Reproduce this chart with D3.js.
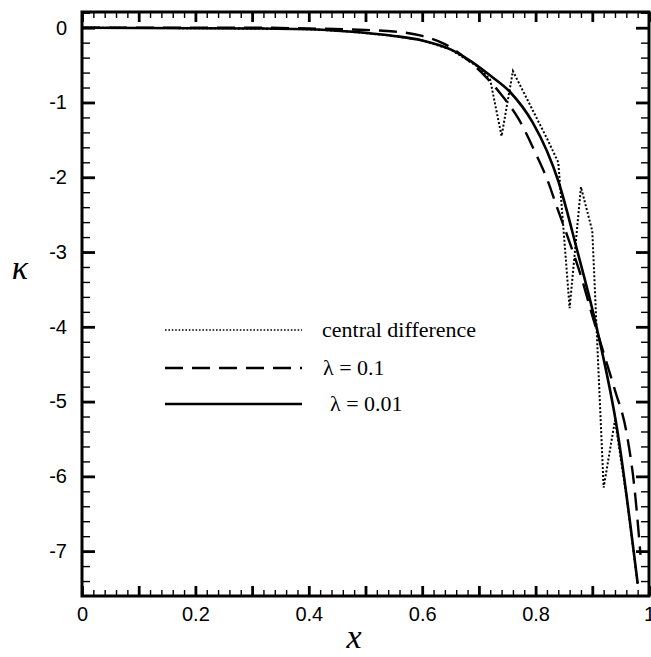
<!DOCTYPE html>
<html>
<head>
<meta charset="utf-8">
<script src="https://cdn.jsdelivr.net/npm/d3@7"></script>
<style>
  body { margin: 0; background: #fff; }
  svg { display: block; }
</style>
</head>
<body>
<div id="chart"></div>
<script>
// curve data (x, kappa)
var xSolid = [0, 0.3, 0.4, 0.47, 0.55, 0.6, 0.65, 0.69, 0.72, 0.755, 0.795, 0.82, 0.84, 0.873, 0.908, 0.944, 0.98];
var kSolid = [0, -0.01, -0.02, -0.05, -0.11, -0.17, -0.29, -0.47, -0.64, -0.86, -1.27, -1.65, -2.05, -2.97, -4.02, -5.38, -7.43];

var xDashed = [0, 0.3, 0.4, 0.5, 0.55, 0.6, 0.64, 0.68, 0.71, 0.74, 0.77, 0.8, 0.82, 0.84, 0.86, 0.88, 0.9, 0.92, 0.94, 0.96, 0.975, 0.985];
var kDashed = [0, 0, -0.01, -0.03, -0.05, -0.11, -0.22, -0.43, -0.64, -0.9, -1.22, -1.68, -2.02, -2.45, -2.87, -3.32, -3.85, -4.35, -4.85, -5.4, -6.2, -7.05];

var xCentral = [0, 0.3, 0.4, 0.47, 0.55, 0.6, 0.65, 0.7, 0.72, 0.74, 0.76, 0.78, 0.8, 0.82, 0.84, 0.86, 0.88, 0.9, 0.92, 0.94, 0.96, 0.98];
var kCentral = [0, -0.01, -0.02, -0.05, -0.11, -0.17, -0.29, -0.53, -0.7, -1.45, -0.58, -0.88, -1.18, -1.48, -1.8, -3.75, -2.13, -2.72, -6.15, -5.25, -6.25, -7.45];

var xLabels = [0, 0.2, 0.4, 0.6, 0.8, 1];
var yLabels = [0, -1, -2, -3, -4, -5, -6, -7];
var legendNames = ["central difference", "\u03bb = 0.1", "\u03bb = 0.01"];

var width = 651;
var height = 657;
var padL = 82, padR = 649, padT = 12, padB = 596;

var x = d3.scaleLinear().domain([0, 1]).range([padL, padR]);
var y = d3.scaleLinear().domain([0.21, -7.6]).range([padT, padB]);

const svg = d3.select("#chart")
  .append("svg")
  .attr("width", width)
  .attr("height", height)
  .attr("viewBox", [0, 0, width, height]);

function zip(xs, ks) {
  return xs.map((v, i) => [v, ks[i]]);
}

var line = d3.line()
  .x(d => x(d[0]))
  .y(d => y(d[1]));
var smooth = d3.line()
  .x(d => x(d[0]))
  .y(d => y(d[1]))
  .curve(d3.curveMonotoneX);

var plot = svg.append("g");

plot.append("path")
  .attr("d", line(zip(xCentral, kCentral)))
  .attr("fill", "none")
  .attr("stroke", "#000")
  .attr("stroke-width", 2)
  .attr("stroke-dasharray", "2,2");

plot.append("path")
  .attr("d", smooth(zip(xDashed, kDashed)))
  .attr("fill", "none")
  .attr("stroke", "#000")
  .attr("stroke-width", 2.4)
  .attr("stroke-dasharray", "18,9");

plot.append("path")
  .attr("d", smooth(zip(xSolid, kSolid)))
  .attr("fill", "none")
  .attr("stroke", "#000")
  .attr("stroke-width", 2.6);

// ticks, all pointing inwards on the four sides
var xMajor = d3.range(0, 11).map(i => i / 10);
var xMinor = d3.range(0, 51).map(i => i / 50).filter(v => Math.round(v * 50) % 5 !== 0);
var yMajor = d3.range(0, 8).map(i => -i);
var yMinor = d3.range(-37, 2).map(i => i / 5).filter(v => Math.round(v * 5) % 5 !== 0);

function styleAxis(g, w) {
  g.select(".domain").remove();
  g.selectAll(".tick line").attr("stroke-width", w);
}

svg.append("g").attr("transform", `translate(0,${padB})`)
  .call(d3.axisBottom(x).tickValues(xMinor).tickSize(-6).tickFormat(""))
  .call(g => styleAxis(g, 1.4));
svg.append("g").attr("transform", `translate(0,${padT})`)
  .call(d3.axisTop(x).tickValues(xMinor).tickSize(-6).tickFormat(""))
  .call(g => styleAxis(g, 1.4));
svg.append("g").attr("transform", `translate(0,${padT})`)
  .call(d3.axisTop(x).tickValues(xMajor).tickSize(-10).tickFormat(""))
  .call(g => styleAxis(g, 2.8));

svg.append("g").attr("transform", `translate(0,${padB})`)
  .call(d3.axisBottom(x).tickValues(xMajor).tickSize(-10).tickPadding(11)
    .tickFormat(d => xLabels.some(v => Math.abs(v - d) < 1e-9) ? String(+d.toFixed(1)) : ""))
  .call(g => styleAxis(g, 2.8))
  .call(g => g.selectAll("text")
    .attr("fill", "#000")
    .style("font-family", "'Liberation Sans', Arial, sans-serif")
    .style("font-size", "20px"));

svg.append("g").attr("transform", `translate(${padL},0)`)
  .call(d3.axisLeft(y).tickValues(yMinor).tickSize(-8).tickFormat(""))
  .call(g => styleAxis(g, 1.4));
svg.append("g").attr("transform", `translate(${padR},0)`)
  .call(d3.axisRight(y).tickValues(yMinor).tickSize(-8).tickFormat(""))
  .call(g => styleAxis(g, 1.4));
svg.append("g").attr("transform", `translate(${padR},0)`)
  .call(d3.axisRight(y).tickValues(yMajor).tickSize(-13).tickFormat(""))
  .call(g => styleAxis(g, 2.8));

svg.append("g").attr("transform", `translate(${padL},0)`)
  .call(d3.axisLeft(y).tickValues(yLabels).tickSize(-13).tickPadding(15).tickFormat(d => String(d)))
  .call(g => styleAxis(g, 2.8))
  .call(g => g.selectAll("text")
    .attr("fill", "#000")
    .style("font-family", "'Liberation Sans', Arial, sans-serif")
    .style("font-size", "20px"));

// frame
svg.append("rect")
  .attr("x", padL)
  .attr("y", padT)
  .attr("width", padR - padL)
  .attr("height", padB - padT)
  .attr("fill", "none")
  .attr("stroke", "#000")
  .attr("stroke-width", 3);

// axis titles
svg.append("text")
  .attr("x", 354)
  .attr("y", 648)
  .attr("text-anchor", "middle")
  .style("font-family", "'Liberation Serif', 'Times New Roman', serif")
  .style("font-style", "italic")
  .style("font-size", "34px")
  .text("x");

svg.append("text")
  .attr("x", 20)
  .attr("y", 279)
  .attr("text-anchor", "middle")
  .style("font-family", "'Liberation Serif', 'Times New Roman', serif")
  .style("font-style", "italic")
  .style("font-size", "34px")
  .text("\u03ba");

// legend
var legendY = [330, 368, 404];
var legendTextX = [322, 323, 330];
var legendDash = ["1.6,1.8", "18,9", null];
var legendWidth = [1.6, 2.4, 2.6];

var legend = svg.append("g");
legendNames.forEach((name, i) => {
  legend.append("line")
    .attr("x1", 165)
    .attr("x2", 302)
    .attr("y1", legendY[i])
    .attr("y2", legendY[i])
    .attr("stroke", "#000")
    .attr("stroke-width", legendWidth[i])
    .attr("stroke-dasharray", legendDash[i]);
  legend.append("text")
    .attr("x", legendTextX[i])
    .attr("y", legendY[i] + 7)
    .style("font-family", "'Liberation Serif', 'Times New Roman', serif")
    .style("font-size", "22px")
    .text(name);
});
</script>
</body>
</html>
